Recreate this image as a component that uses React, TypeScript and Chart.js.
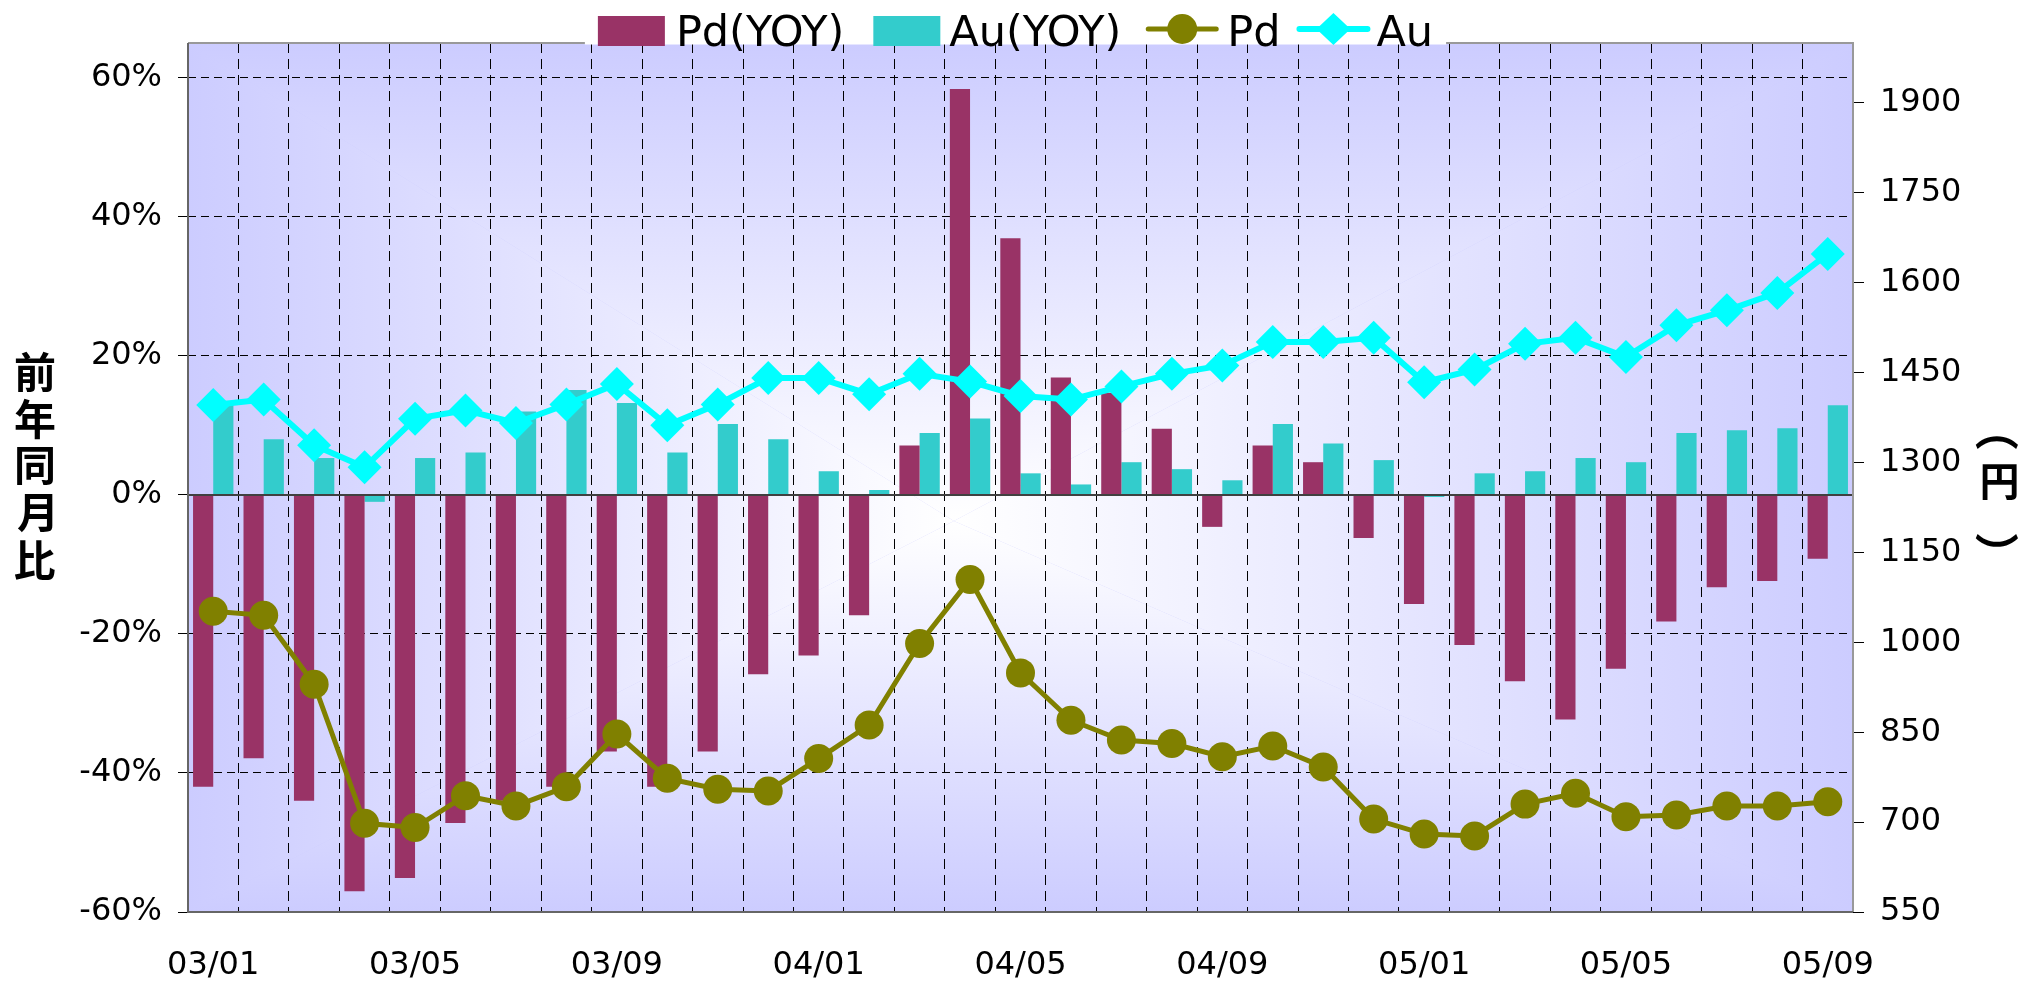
import React, { useEffect, useRef } from "react";
import { Chart, registerables } from "chart.js";

Chart.register(...registerables);

const months: string[] = [
  "03/01", "03/02", "03/03", "03/04", "03/05", "03/06", "03/07", "03/08", "03/09", "03/10", "03/11", "03/12",
  "04/01", "04/02", "04/03", "04/04", "04/05", "04/06", "04/07", "04/08", "04/09", "04/10", "04/11", "04/12",
  "05/01", "05/02", "05/03", "05/04", "05/05", "05/06", "05/07", "05/08", "05/09",
];

// year-on-year change, %
const pdYoy: number[] = [
  -42.0, -37.9, -44.0, -57.0, -55.1, -47.2, -44.0, -42.0, -36.9, -42.0, -36.9, -25.8,
  -23.1, -17.3, 7.1, 58.4, 36.9, 16.9, 14.7, 9.5, -4.6, 7.1, 4.7, -6.2,
  -15.7, -21.6, -26.8, -32.3, -25.0, -18.2, -13.3, -12.4, -9.2,
];
const auYoy: number[] = [
  13.0, 8.0, 5.3, -1.0, 5.3, 6.1, 12.0, 15.1, 13.2, 6.1, 10.2, 8.0,
  3.4, 0.7, 8.9, 11.0, 3.1, 1.5, 4.7, 3.7, 2.1, 10.2, 7.4, 5.0,
  -0.3, 3.1, 3.4, 5.3, 4.7, 8.9, 9.3, 9.6, 12.9,
];
// price, yen
const pdPrice: number[] = [
  1052, 1045, 930, 698, 691, 744, 727, 759, 847, 773, 755, 752,
  806, 862, 998, 1105, 949, 870, 837, 831, 809, 827, 792, 705,
  680, 677, 730, 748, 709, 712, 727, 727, 734,
];
const auPrice: number[] = [
  1396, 1405, 1329, 1292, 1373, 1387, 1366, 1397, 1431, 1362, 1397, 1441,
  1441, 1414, 1448, 1435, 1411, 1405, 1427, 1448, 1462, 1501, 1501, 1508,
  1434, 1455, 1498, 1508, 1476, 1529, 1554, 1583, 1648,
];

const leftTicks: number[] = [-60, -40, -20, 0, 20, 40, 60];
const rightTicks: number[] = [550, 700, 850, 1000, 1150, 1300, 1450, 1600, 1750, 1900];

const leftTitle = "前年同月比";
const rightTitle = ["（", "円", "）"];

const C_PD_BAR = "#993366";
const C_AU_BAR = "#33cccc";
const C_PD_LINE = "#808000";
const C_AU_LINE = "#00ffff";
const LAVENDER = "rgb(204,204,255)";

const bgPlugin = {
  id: "bgRect",
  beforeDraw(chart: any) {
    const { ctx, chartArea } = chart;
    const { left, top, right, bottom } = chartArea;
    const cx = left + 0.46 * (right - left);
    const cy = top + 0.55 * (bottom - top);
    ctx.save();
    ctx.fillStyle = LAVENDER;
    ctx.fillRect(left, top, right - left, bottom - top);
    const tri = (x1: number, y1: number, x2: number, y2: number, g: any) => {
      ctx.beginPath();
      ctx.moveTo(cx, cy);
      ctx.lineTo(x1, y1);
      ctx.lineTo(x2, y2);
      ctx.closePath();
      ctx.fillStyle = g;
      ctx.fill();
    };
    const mk = (x0: number, y0: number, x1: number, y1: number) => {
      const g = ctx.createLinearGradient(x0, y0, x1, y1);
      g.addColorStop(0, "#ffffff");
      g.addColorStop(1, LAVENDER);
      return g;
    };
    tri(left, top, right, top, mk(0, cy, 0, top));
    tri(left, bottom, right, bottom, mk(0, cy, 0, bottom));
    tri(left, top, left, bottom, mk(cx, 0, left, 0));
    tri(right, top, right, bottom, mk(cx, 0, right, 0));
    ctx.restore();
  },
};

const overlayPlugin = {
  id: "overlay",
  afterDatasetsDraw(chart: any) {
    const { ctx, chartArea, scales } = chart;
    const y0 = scales.y.getPixelForValue(0);
    ctx.save();
    ctx.strokeStyle = "#404040";
    ctx.lineWidth = 2;
    ctx.beginPath();
    ctx.moveTo(chartArea.left, y0);
    ctx.lineTo(chartArea.right, y0);
    ctx.stroke();
    ctx.restore();
  },
  afterDraw(chart: any) {
    const { ctx, chartArea } = chart;
    const { left, top, right, bottom } = chartArea;
    ctx.save();
    // plot border
    ctx.lineWidth = 2;
    ctx.strokeStyle = "#999999";
    ctx.beginPath();
    ctx.moveTo(left, top);
    ctx.lineTo(right, top);
    ctx.lineTo(right, bottom);
    ctx.stroke();
    ctx.strokeStyle = "#666666";
    ctx.beginPath();
    ctx.moveTo(left, top);
    ctx.lineTo(left, bottom);
    ctx.lineTo(right, bottom);
    ctx.stroke();

    // legend
    const legendFont = "43px 'DejaVu Sans'";
    ctx.font = legendFont;
    const items = [
      { text: "Pd(YOY)", kind: "box", color: C_PD_BAR },
      { text: "Au(YOY)", kind: "box", color: C_AU_BAR },
      { text: "Pd", kind: "circle", color: C_PD_LINE },
      { text: "Au", kind: "diamond", color: C_AU_LINE },
    ];
    const symW = [67, 67, 72, 72];
    const gapSym = [11, 9, 9, 7];
    const gapAfter = [29, 25, 17, 0];
    let total = 0;
    items.forEach((it, i) => {
      total += symW[i] + gapSym[i] + ctx.measureText(it.text).width + gapAfter[i];
    });
    const cxL = (left + right) / 2 - 5;
    let x = cxL - total / 2;
    ctx.fillStyle = "#ffffff";
    ctx.fillRect(x - 13, 0, total + 26, top + 1.5);
    const midY = 29;
    const baseY = 46;
    items.forEach((it, i) => {
      if (it.kind === "box") {
        ctx.fillStyle = it.color;
        ctx.fillRect(x, 16, symW[i], 30);
      } else {
        ctx.strokeStyle = it.color;
        ctx.lineWidth = it.kind === "circle" ? 5 : 6;
        ctx.lineCap = "round";
        ctx.beginPath();
        ctx.moveTo(x + 2, midY);
        ctx.lineTo(x + symW[i] - 2, midY);
        ctx.stroke();
        ctx.fillStyle = it.color;
        const mx = x + symW[i] / 2;
        ctx.beginPath();
        if (it.kind === "circle") {
          ctx.arc(mx, midY, 15, 0, Math.PI * 2);
        } else {
          ctx.moveTo(mx - 17, midY);
          ctx.lineTo(mx, midY - 16);
          ctx.lineTo(mx + 17, midY);
          ctx.lineTo(mx, midY + 16);
          ctx.closePath();
        }
        ctx.fill();
      }
      x += symW[i] + gapSym[i];
      ctx.fillStyle = "#000000";
      ctx.font = legendFont;
      ctx.textAlign = "left";
      ctx.textBaseline = "alphabetic";
      ctx.fillText(it.text, x, baseY);
      x += ctx.measureText(it.text).width + gapAfter[i];
    });

    // axis titles, stacked vertically
    const drawInk = (ch: string, cx: number, cy: number, font: string, rot: number) => {
      ctx.save();
      ctx.font = font;
      ctx.textAlign = "left";
      ctx.textBaseline = "alphabetic";
      const m = ctx.measureText(ch);
      const l = m.actualBoundingBoxLeft, r = m.actualBoundingBoxRight;
      const a = m.actualBoundingBoxAscent, d = m.actualBoundingBoxDescent;
      ctx.translate(cx, cy);
      ctx.rotate(rot);
      ctx.fillStyle = "#000000";
      ctx.fillText(ch, -(r - l) / 2, (a - d) / 2);
      ctx.restore();
    };
    const tf = "bold 42px 'Noto Sans CJK JP'";
    Array.from(leftTitle).forEach((ch, i) => {
      drawInk(ch, 35, 372 + i * 47, tf, 0);
    });
    drawInk(rightTitle[0], 1996, 443, "bold 44px 'Noto Sans CJK JP'", Math.PI / 2);
    drawInk(rightTitle[1], 2000, 482, "bold 40px 'Noto Sans CJK JP'", 0);
    drawInk(rightTitle[2], 1996, 540, "bold 44px 'Noto Sans CJK JP'", Math.PI / 2);
    ctx.restore();
  },
};

export default function App() {
  const ref = useRef<HTMLCanvasElement | null>(null);
  useEffect(() => {
    if (!ref.current) return;
    Chart.defaults.font.family = "'DejaVu Sans'";
    const tickFont = { family: "'DejaVu Sans'", size: 32 };
    const chart = new Chart(ref.current, {
      type: "bar",
      data: {
        labels: months,
        datasets: [
          {
            type: "line",
            label: "Pd",
            data: pdPrice,
            yAxisID: "y2",
            borderColor: C_PD_LINE,
            backgroundColor: C_PD_LINE,
            borderWidth: 5,
            pointStyle: "circle",
            pointRadius: 14.5,
            pointBorderWidth: 0,
            pointBackgroundColor: C_PD_LINE,
            tension: 0,
            order: 0,
          } as any,
          {
            type: "line",
            label: "Au",
            data: auPrice,
            yAxisID: "y2",
            borderColor: C_AU_LINE,
            backgroundColor: C_AU_LINE,
            borderWidth: 6,
            pointStyle: "rectRot",
            pointRadius: 17,
            pointBorderWidth: 0,
            pointBackgroundColor: C_AU_LINE,
            tension: 0,
            order: 0,
          } as any,
          {
            type: "bar",
            label: "Pd(YOY)",
            data: pdYoy,
            yAxisID: "y",
            backgroundColor: C_PD_BAR,
            categoryPercentage: 0.8,
            barPercentage: 1.0,
            order: 1,
          },
          {
            type: "bar",
            label: "Au(YOY)",
            data: auYoy,
            yAxisID: "y",
            backgroundColor: C_AU_BAR,
            categoryPercentage: 0.8,
            barPercentage: 1.0,
            order: 1,
          },
        ],
      },
      options: {
        animation: false,
        responsive: true,
        maintainAspectRatio: false,
        devicePixelRatio: 1,
        layout: { padding: { top: 43, left: 0, right: 0, bottom: 0 } },
        plugins: {
          legend: { display: false },
          tooltip: { enabled: false },
          title: { display: false },
        },
        scales: {
          x: {
            type: "category",
            offset: true,
            grid: {
              offset: true,
              color: "#000000",
              lineWidth: 1,
              drawTicks: false,
            },
            border: { display: false, dash: [10, 6] },
            ticks: {
              autoSkip: false,
              maxRotation: 0,
              minRotation: 0,
              padding: 34,
              color: "#000000",
              font: tickFont,
              callback: (_v: any, i: number) => (i % 4 === 0 ? months[i] : ""),
            },
            afterFit: (s: any) => {
              s.height = 69;
            },
          },
          y: {
            position: "left",
            min: -60,
            max: 65,
            afterBuildTicks: (s: any) => {
              s.ticks = leftTicks.map((v) => ({ value: v }));
            },
            grid: {
              color: (c: any) => (c.tick && c.tick.value === 0 ? "rgba(0,0,0,0)" : "#000000"),
              lineWidth: 1,
              drawTicks: true,
              tickLength: 10,
              tickColor: "#000000",
              tickWidth: 1,
            },
            border: { display: false, dash: [8, 5] },
            ticks: {
              padding: 16,
              color: "#000000",
              font: tickFont,
              callback: (v: any) => `${v}%`,
            },
            afterFit: (s: any) => {
              s.width = 188;
            },
          },
          y2: {
            position: "right",
            min: 550,
            max: 2000,
            afterBuildTicks: (s: any) => {
              s.ticks = rightTicks.map((v) => ({ value: v }));
            },
            grid: {
              drawOnChartArea: false,
              drawTicks: true,
              tickLength: 11,
              tickColor: "#000000",
              tickWidth: 1,
            },
            border: { display: false },
            ticks: {
              padding: 16,
              color: "#000000",
              font: tickFont,
              callback: (v: any) => `${v}`,
            },
            afterFit: (s: any) => {
              s.width = 189;
            },
          },
        },
      },
      plugins: [bgPlugin, overlayPlugin],
    } as any);
    return () => chart.destroy();
  }, []);
  return (
    <div style={{ position: "fixed", left: 0, top: 0, width: "2042px", height: "981px", background: "#ffffff" }}>
      <canvas ref={ref} />
    </div>
  );
}
